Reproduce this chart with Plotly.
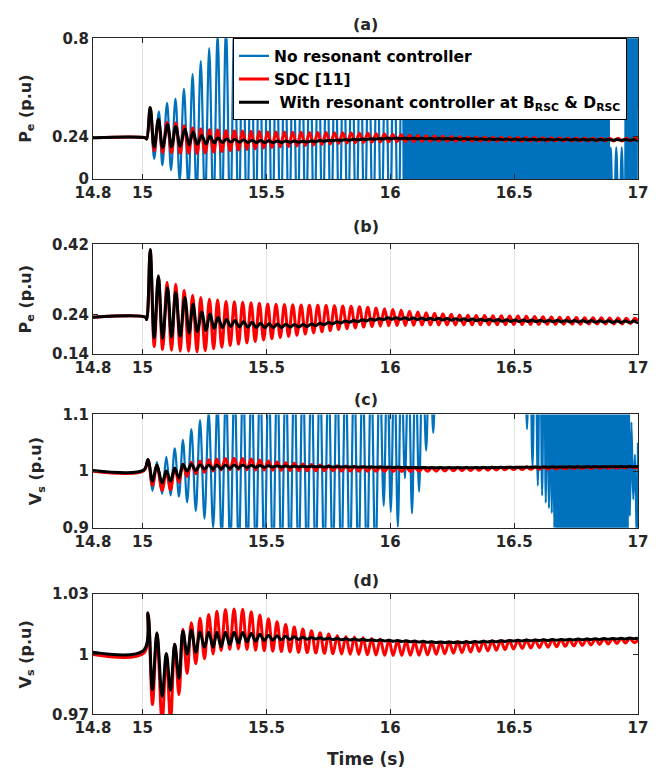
import numpy as np
import plotly.graph_objects as go

# ---------------- axes / labels ----------------
x_tick_vals = [14.8, 15, 15.5, 16, 16.5, 17]
x_tick_text = ["14.8", "15", "15.5", "16", "16.5", "17"]
ticks_a = [0, 0.24, 0.8]
ticks_b = [0.14, 0.24, 0.42]
ticks_c = [0.9, 1, 1.1]
ticks_d = [0.97, 1, 1.03]
ticks_a_text = ["0", "0.24", "0.8"]
ticks_b_text = ["0.14", "0.24", "0.42"]
ticks_c_text = ["0.9", "1", "1.1"]
ticks_d_text = ["0.97", "1", "1.03"]
panel_titles = ["(a)", "(b)", "(c)", "(d)"]
series_names = ["No resonant controller", "SDC [11]",
                " With resonant controller at B<sub>RSC</sub> & D<sub>RSC</sub>"]
T_END = 17.0

# ---------------- P_e data (panels a, b) ----------------
pe_pre_t = [14.8, 15.012, 15.017]
pe_pre_v = [0.234, 0.234, 0.228]

pe_black_ext_t = [15.031, 15.047, 15.064, 15.081, 15.101, 15.117, 15.134, 15.152, 15.171, 15.188,
                  15.204, 15.221, 15.239, 15.256, 15.272, 15.289, 15.305, 15.322, 15.339]
pe_black_ext_v = [0.407, 0.180, 0.340, 0.1795, 0.309, 0.183, 0.298, 0.185, 0.284, 0.193,
                  0.267, 0.197, 0.247, 0.199, 0.243, 0.205, 0.234, 0.207, 0.228]
pe_black_env_t = [15.339, 15.42, 15.50, 15.65, 15.80, 16.00, 16.20, 16.50, 17.00]
pe_black_up = [0.228, 0.222, 0.217, 0.215, 0.223, 0.233, 0.231, 0.227, 0.224]
pe_black_lo = [0.211, 0.208, 0.207, 0.209, 0.219, 0.229, 0.227, 0.223, 0.220]
pe_black_f = [29.2] * 9

# red (SDC)
pe_red_ext_t = [15.031, 15.047, 15.064, 15.081, 15.099, 15.117, 15.134, 15.152, 15.168, 15.186,
                15.202, 15.220, 15.235, 15.253, 15.270, 15.287, 15.303, 15.320, 15.337]
pe_red_ext_v = [0.405, 0.159, 0.335, 0.151, 0.323, 0.149, 0.318, 0.147, 0.303, 0.147,
                0.290, 0.145, 0.284, 0.148, 0.280, 0.153, 0.278, 0.157, 0.274]
pe_red_env_t = [15.337, 15.42, 15.50, 15.65, 15.80, 15.90, 16.00, 16.15, 16.30, 16.50, 16.75, 17.00]
pe_red_up = [0.274, 0.272, 0.268, 0.265, 0.263, 0.260, 0.254, 0.245, 0.239, 0.237, 0.233, 0.231]
pe_red_lo = [0.160, 0.168, 0.177, 0.190, 0.203, 0.209, 0.212, 0.214, 0.214, 0.215, 0.216, 0.217]
pe_red_f = [29.7] * 12

# blue (no resonant controller)
pe_blue_ext_t = [15.031, 15.047, 15.066, 15.080, 15.099, 15.115, 15.133, 15.150, 15.167, 15.185,
                 15.202, 15.218, 15.235, 15.252, 15.269, 15.286, 15.303]
pe_blue_ext_v = [0.400, 0.115, 0.383, 0.078, 0.433, 0.050, 0.457, -0.01, 0.513, -0.05,
                 0.596, -0.10, 0.670, -0.15, 0.744, -0.20, 0.830]
pe_blue_env_t = [15.303, 15.40, 15.50, 15.70, 16.00, 16.04, 16.06, 16.30, 16.50, 16.88, 16.89, 16.94, 16.95, 17.00]
pe_blue_up = [0.83, 0.95, 0.88, 0.86, 0.85, 0.85, 1.40, 1.40, 1.40, 1.40, 0.18, 0.18, 1.40, 1.40]
pe_blue_lo = [-0.20, -0.35, -0.40, -0.40, -0.40, -0.40, -0.60, -0.60, -0.60, -0.60, -0.40, -0.40, -0.60, -0.60]
pe_blue_f = [29.5, 29.5, 29.5, 29.5, 29.5, 29.5, 130, 125, 135, 130, 45, 45, 130, 130]

# ---------------- V_s data (panels c, d) ----------------
vs_black_pre_t = [14.8, 15.005]
vs_black_pre_v = [1.001, 1.002]
vs_red_pre_t = [14.8, 15.005]
vs_red_pre_v = [0.9999, 1.0006]

vs_black_ext_t = [15.022, 15.040, 15.058, 15.079, 15.096, 15.113, 15.130, 15.147, 15.163, 15.180,
                  15.197, 15.215, 15.232, 15.250, 15.267, 15.285, 15.300]
vs_black_ext_v = [1.0207, 0.9823, 1.0108, 0.979, 1.0004, 0.982, 1.005, 0.988, 1.0117, 1.0001,
                  1.012, 1.001, 1.0112, 1.0035, 1.011, 1.0035, 1.011]
vs_black_env_t = [15.30, 15.40, 15.50, 15.60, 15.70, 16.00, 16.20, 16.30, 16.50, 17.00]
vs_black_up = [1.011, 1.011, 1.0096, 1.0088, 1.0083, 1.0070, 1.0062, 1.0062, 1.0070, 1.0082]
vs_black_lo = [1.0035, 1.006, 1.007, 1.0074, 1.0076, 1.0066, 1.0058, 1.0058, 1.0066, 1.0078]
vs_black_f = [28.8] * 10

vs_red_ext_t = [15.022, 15.040, 15.058, 15.079, 15.096, 15.113, 15.130, 15.147, 15.163, 15.180,
                15.197, 15.215, 15.232, 15.250, 15.267, 15.285, 15.300]
vs_red_ext_v = [1.020, 0.975, 1.010, 0.966, 1.000, 0.967, 1.005, 0.9798, 1.0125, 0.9904,
                1.0158, 0.9953, 1.018, 0.9978, 1.0199, 1.0002, 1.0215]
vs_red_env_t = [15.30, 15.331, 15.365, 15.40, 15.434, 15.468, 15.503, 15.554, 15.623, 15.708,
                15.794, 15.88, 16.00, 16.137, 16.309, 16.50, 16.75, 17.00]
vs_red_up = [1.0215, 1.0223, 1.0226, 1.0226, 1.0215, 1.0199, 1.018, 1.0158, 1.0133, 1.011,
             1.0092, 1.0084, 1.0071, 1.006, 1.0065, 1.007, 1.0075, 1.0081]
vs_red_lo = [1.0016, 1.0022, 1.0027, 1.0027, 1.0022, 1.0019, 1.0017, 1.0014, 1.001, 1.0006,
             1.0002, 0.9999, 0.9994, 0.9996, 1.001, 1.0027, 1.0043, 1.006]
vs_red_f = [28.8] * 18

vs_blue_ext_t = [15.022, 15.040, 15.058, 15.079, 15.096, 15.113, 15.130, 15.147, 15.163, 15.180,
                 15.197, 15.215, 15.232, 15.250, 15.267, 15.285]
vs_blue_ext_v = [1.020, 0.965, 1.016, 0.960, 1.025, 0.957, 1.040, 0.955, 1.055, 0.945,
                 1.074, 0.930, 1.090, 0.916, 1.105, 0.900]
vs_blue_env_t = [15.285, 15.35, 15.50, 15.95, 15.97, 16.00, 16.03, 16.06, 16.09, 16.12, 16.15, 16.19,
                 16.21, 16.53, 16.55, 16.58, 16.62, 16.66, 16.68, 16.95, 16.97, 16.99, 17.00]
vs_blue_up = [1.105, 1.16, 1.19, 1.19, 1.20, 1.20, 1.20, 1.20, 1.20, 1.20, 1.25, 1.25,
              1.40, 1.40, 1.30, 1.30, 1.30, 1.30, 1.35, 1.35, 1.10, 1.02, 1.30]
vs_blue_lo = [0.90, 0.86, 0.83, 0.83, 0.94, 0.93, 0.90, 0.99, 0.92, 0.97, 1.05, 1.08,
              1.20, 1.20, 1.08, 0.99, 0.95, 0.92, 0.75, 0.75, 0.95, 0.95, 0.80]
vs_blue_f = [29, 29, 29, 29, 35, 35, 35, 35, 35, 35, 35, 35, 40, 40, 45, 45, 70, 100, 130, 130, 70, 70, 70]


def build(pre_t, pre_v, ext_t, ext_v, env_t, env_up, env_lo, env_f):
    """Concatenate read extremes, then continue alternating between the read
    upper / lower envelopes at the read oscillation frequency."""
    t = list(pre_t) + list(ext_t)
    v = list(pre_v) + list(ext_v)
    last_peak = ext_v[-1] > ext_v[-2]
    tc = ext_t[-1]
    while True:
        f = float(np.interp(tc, env_t, env_f))
        tc = tc + 0.5 / f
        if tc >= T_END:
            break
        last_peak = not last_peak
        arr = env_up if last_peak else env_lo
        t.append(tc)
        v.append(float(np.interp(tc, env_t, arr)))
    t.append(T_END)
    v.append(0.5 * (np.interp(T_END, env_t, env_up) + np.interp(T_END, env_t, env_lo)))
    return t, v


pe_black = build(pe_pre_t, pe_pre_v, pe_black_ext_t, pe_black_ext_v, pe_black_env_t, pe_black_up, pe_black_lo, pe_black_f)
pe_red = build(pe_pre_t, pe_pre_v, pe_red_ext_t, pe_red_ext_v, pe_red_env_t, pe_red_up, pe_red_lo, pe_red_f)
pe_blue = build(pe_pre_t, pe_pre_v, pe_blue_ext_t, pe_blue_ext_v, pe_blue_env_t, pe_blue_up, pe_blue_lo, pe_blue_f)
vs_black = build(vs_black_pre_t, vs_black_pre_v, vs_black_ext_t, vs_black_ext_v, vs_black_env_t, vs_black_up, vs_black_lo, vs_black_f)
vs_red = build(vs_red_pre_t, vs_red_pre_v, vs_red_ext_t, vs_red_ext_v, vs_red_env_t, vs_red_up, vs_red_lo, vs_red_f)
vs_blue = build(vs_red_pre_t, vs_red_pre_v, vs_blue_ext_t, vs_blue_ext_v, vs_blue_env_t, vs_blue_up, vs_blue_lo, vs_blue_f)

# ---------------- figure ----------------
W, H = 664, 783
L, R = 93, 26
FONT = "DejaVu Sans"
TXT = "#262626"
BLUE, RED, BLACK = "#0072BD", "#FF0000", "#000000"
widths = {BLUE: 2.2, RED: 3, BLACK: 3}

# pixel rows of each axes box (top, bottom)
rows = [(30, 174), (241, 353), (415, 531), (599, 722)]
title_y = [16, 223, 400, 585]

fig = go.Figure()

panels = [
    ("", [(pe_blue, BLUE, 0), (pe_red, RED, 1), (pe_black, BLACK, 2)], [0, 0.8], ticks_a, ticks_a_text, "P<sub>e</sub> (p.u)"),
    ("2", [(pe_red, RED, 1), (pe_black, BLACK, 2)], [0.14, 0.42], ticks_b, ticks_b_text, "P<sub>e</sub> (p.u)"),
    ("3", [(vs_blue, BLUE, 0), (vs_red, RED, 1), (vs_black, BLACK, 2)], [0.9, 1.1], ticks_c, ticks_c_text, "V<sub>s</sub> (p.u)"),
    ("4", [(vs_red, RED, 1), (vs_black, BLACK, 2)], [0.97, 1.03], ticks_d, ticks_d_text, "V<sub>s</sub> (p.u)"),
]

for i, (suf, traces, yr, tv, tt, ytitle) in enumerate(panels):
    for (tdata, col, idx) in traces:
        fig.add_trace(go.Scatter(
            x=tdata[0], y=tdata[1], mode="lines",
            line=dict(color=col, width=widths[col], shape="spline", smoothing=1.0),
            name=series_names[idx], showlegend=(i == 0),
            xaxis="x" + suf, yaxis="y" + suf, hoverinfo="skip"))
    top, bot = rows[i]
    dom = [1 - bot / H, 1 - top / H]
    axis_common = dict(showline=True, linecolor=TXT, linewidth=1, mirror="ticks",
                       ticks="inside", ticklen=5, tickcolor=TXT, tickwidth=1,
                       tickfont=dict(family=FONT, size=15, color=TXT, weight="bold"),
                       zeroline=False)
    fig.layout["xaxis" + suf] = dict(domain=[0, 1], range=[14.8, 17], anchor="y" + suf,
                                     tickvals=x_tick_vals, ticktext=x_tick_text,
                                     showgrid=True, gridcolor="#E3E3E3", gridwidth=1,
                                     **axis_common)
    fig.layout["yaxis" + suf] = dict(domain=dom, range=yr, anchor="x" + suf,
                                     tickvals=tv, ticktext=tt, showgrid=False,
                                     title=dict(text=ytitle, standoff=16,
                                                font=dict(family=FONT, size=16, color=TXT, weight="bold")),
                                     **axis_common)
    fig.add_annotation(text=panel_titles[i], xref="paper", yref="paper",
                       x=0.5, y=1 - title_y[i] / H, xanchor="center", yanchor="middle",
                       showarrow=False,
                       font=dict(family=FONT, size=16, color=TXT, weight="bold"))

fig.add_annotation(text="Time (s)", xref="paper", yref="paper", x=0.5, y=1 - 768 / H,
                   xanchor="center", yanchor="middle", showarrow=False,
                   font=dict(family=FONT, size=17, color=TXT, weight="bold"))

plot_w = W - L - R
fig.update_layout(
    width=W, height=H,
    margin=dict(l=L, r=R, t=0, b=0),
    paper_bgcolor="white", plot_bgcolor="white",
    font=dict(family=FONT, color=TXT, weight="bold"),
    legend=dict(x=(233 - L) / plot_w, y=1 - 30 / H, xanchor="left", yanchor="top",
                bgcolor="white", bordercolor="#000000", borderwidth=1,
                font=dict(family=FONT, size=15.5, color="#000000", weight="bold"),
                tracegroupgap=0),
)

fig.write_html("out.html")
